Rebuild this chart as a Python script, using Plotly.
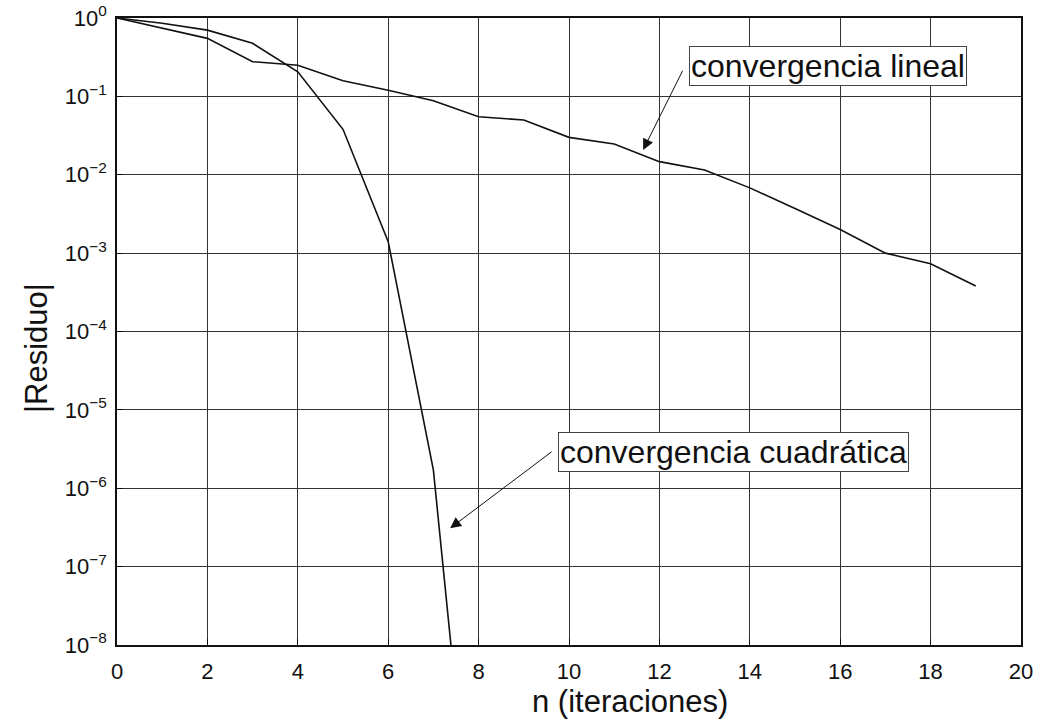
import plotly.graph_objects as go

# Data
n_quad = [0, 1, 2, 3, 4, 5, 6, 7, 8]
res_quad = [1.0, 0.855, 0.70, 0.475, 0.206, 0.038, 1.4e-3, 1.7e-6, 3e-12]

n_lin = list(range(0, 20))
res_lin = [1.0, 0.74, 0.55, 0.277, 0.25, 0.158, 0.12, 0.088, 0.055, 0.05,
           0.030, 0.0247, 0.0147, 0.0115, 0.0068, 0.0037, 0.0020, 0.0010,
           0.00073, 0.00038]

x_ticks = list(range(0, 21, 2))
y_exps = list(range(-8, 1))
y_ticktext = ["10<sup>%s</sup>" % (str(e).replace("-", "\u2212")) for e in y_exps]

tick_font = dict(family="Liberation Sans, Arial", size=22, color="#111")
title_font = dict(family="Liberation Sans, Arial", size=31, color="#111")
ann_font = dict(family="Liberation Sans, Arial", size=32, color="#111")

W, H = 1041, 722
M = dict(l=117, r=20, t=18, b=77)

fig = go.Figure()
fig.add_trace(go.Scatter(x=n_quad, y=res_quad, mode="lines",
                         line=dict(color="#111", width=1.6), showlegend=False))
fig.add_trace(go.Scatter(x=n_lin, y=res_lin, mode="lines",
                         line=dict(color="#111", width=1.6), showlegend=False))

fig.update_xaxes(range=[0, 20], tickvals=x_ticks, ticktext=[str(t) for t in x_ticks],
                 showgrid=True, gridcolor="#333", gridwidth=1.3,
                 showline=True, linecolor="#111", linewidth=1.6, mirror=True,
                 ticks="inside", ticklen=6, tickcolor="#111",
                 tickfont=tick_font, zeroline=False, automargin=False,
                 ticklabelstandoff=6)
fig.update_yaxes(type="log", range=[-8, 0],
                 tickvals=[10.0 ** e for e in y_exps], ticktext=y_ticktext,
                 showgrid=True, gridcolor="#333", gridwidth=1.3,
                 showline=True, linecolor="#111", linewidth=1.6, mirror=True,
                 ticks="inside", ticklen=6, tickcolor="#111",
                 tickfont=tick_font, zeroline=False, automargin=False,
                 ticklabelstandoff=4)

plot_w = W - M["l"] - M["r"]
plot_h = H - M["t"] - M["b"]

# Axis titles
fig.add_annotation(x=(630 - M["l"]) / plot_w, y=(H - M["b"] - 701) / plot_h,
                   xref="paper", yref="paper", text="n (iteraciones)",
                   showarrow=False, font=title_font, xanchor="center", yanchor="middle")
fig.add_annotation(x=(36 - M["l"]) / plot_w, y=(H - M["b"] - 348) / plot_h,
                   xref="paper", yref="paper", text="|Residuo|",
                   showarrow=False, font=title_font, textangle=-90,
                   xanchor="center", yanchor="middle")

# Text boxes
fig.add_annotation(x=12.65, y=-0.612, xref="x", yref="y", text="convergencia lineal",
                   showarrow=False, xanchor="left", yanchor="middle",
                   font=ann_font, bordercolor="#444", borderwidth=1, borderpad=1,
                   bgcolor="white")
fig.add_annotation(x=9.76, y=-5.54, xref="x", yref="y", text="convergencia cuadrática",
                   showarrow=False, xanchor="left", yanchor="middle",
                   font=ann_font, bordercolor="#444", borderwidth=1, borderpad=1,
                   bgcolor="white")
# Arrows
fig.add_annotation(x=11.64, y=-1.684, ax=12.53, ay=-0.654, xref="x", yref="y",
                   axref="x", ayref="y", text="", showarrow=True,
                   arrowhead=2, arrowsize=2.2, arrowwidth=1, arrowcolor="#111")
fig.add_annotation(x=7.37, y=-6.51, ax=9.65, ay=-5.52, xref="x", yref="y",
                   axref="x", ayref="y", text="", showarrow=True,
                   arrowhead=2, arrowsize=2.2, arrowwidth=1, arrowcolor="#111")

fig.update_layout(width=W, height=H, paper_bgcolor="white", plot_bgcolor="white",
                  margin=M)

fig.write_html("out.html", config={"displayModeBar": False},
               post_script="document.body.style.margin='0';document.body.style.overflow='hidden';")
